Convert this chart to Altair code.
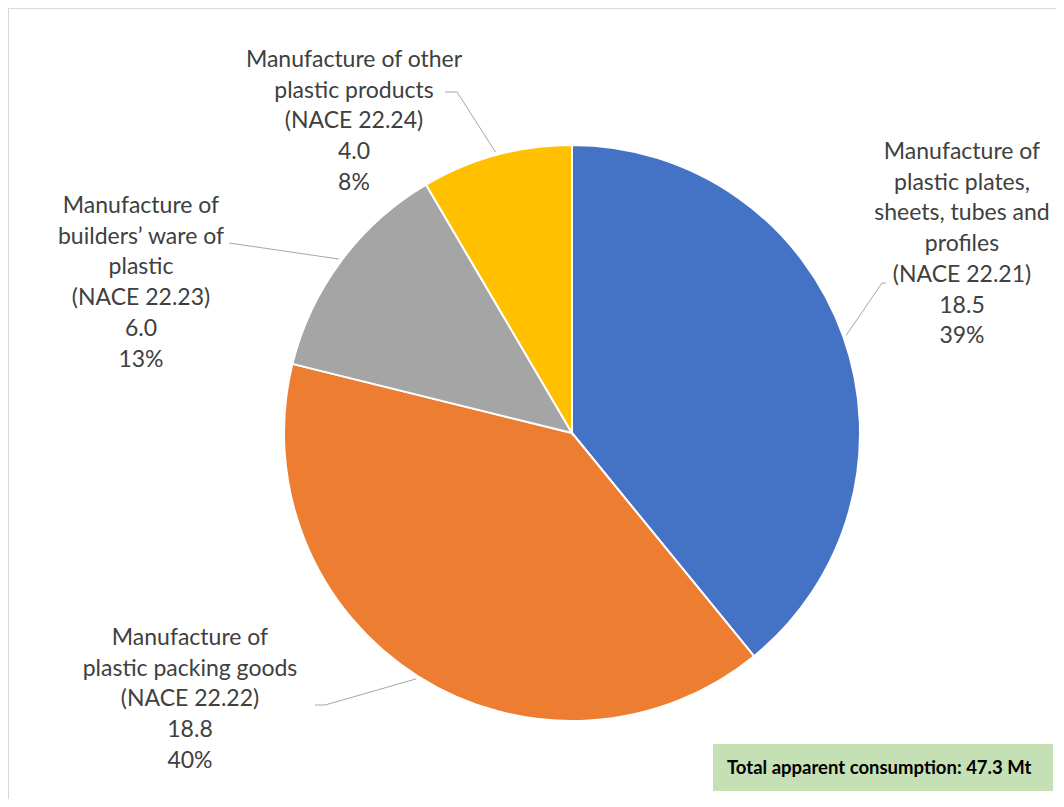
import altair as alt
import pandas as pd
import numpy as np

# ---- data ----
codes = ["22.21", "22.22", "22.23", "22.24"]
names = [
    "Manufacture of\nplastic plates,\nsheets, tubes and\nprofiles",
    "Manufacture of\nplastic packing goods",
    "Manufacture of\nbuilders\u2019 ware of\nplastic",
    "Manufacture of other\nplastic products",
]
values = [18.5, 18.8, 6.0, 4.0]
colors = ["#4472c4", "#ed7d31", "#a5a5a5", "#ffc000"]
total_label = "Total apparent consumption: 47.3 Mt"

# ---- layout (plot-area pixels) ----
W, H = 1048, 791
CX, CY, R = 564, 425, 288
label_x = [954, 182, 133, 346]
label_y = [144, 630, 198, 52]   # centre of first line
leader_ends = [
    [(874, 275), (878, 275)],
    [(317, 697), (307, 697)],
    [(221, 235)],
    [(449, 84), (437, 84)],
]
box = dict(x=705, x2=1045, y=736, y2=783)

total = sum(values)
df = pd.DataFrame({
    "code": codes,
    "value": values,
    "idx": list(range(len(values))),
    "label": [f"{n}\n(NACE {c})\n{v:.1f}\n{round(v / total * 100):.0f}%"
              for n, c, v in zip(names, codes, values)],
    "lx": label_x,
    "ly": label_y,
})

# leader lines from slice mid-angle on the pie edge to the label
rows = []
cum = 0.0
for i, v in enumerate(values):
    mid = (cum + v / 2) / total * 2 * np.pi
    cum += v
    sx = CX + (R + 3) * np.sin(mid)
    sy = CY - (R + 3) * np.cos(mid)
    pts = [(sx, sy)] + leader_ends[i]
    for j, (px, py) in enumerate(pts):
        rows.append({"seg": i, "ord": j, "x": px, "y": py})
lines = pd.DataFrame(rows)

xs = alt.Scale(domain=[0, W], nice=False, zero=False)
ys = alt.Scale(domain=[0, H], nice=False, zero=False, reverse=True)

pie = alt.Chart(df).mark_arc(radius=R, stroke="white", strokeWidth=2).encode(
    theta=alt.Theta("value:Q", stack=True),
    order=alt.Order("idx:Q", sort="ascending"),
    color=alt.Color("code:N", scale=alt.Scale(domain=codes, range=colors), legend=None),
    x=alt.value(CX),
    y=alt.value(CY),
)

leaders = alt.Chart(lines).mark_line(color="#a6a6a6", strokeWidth=1).encode(
    x=alt.X("x:Q", scale=xs, axis=None),
    y=alt.Y("y:Q", scale=ys, axis=None),
    detail="seg:N",
    order="ord:Q",
)

labels = alt.Chart(df).mark_text(
    align="center", baseline="middle", font="Lato", fontSize=23,
    lineHeight=30.7, color="#404040", lineBreak="\n",
).encode(
    x=alt.X("lx:Q", scale=xs, axis=None),
    y=alt.Y("ly:Q", scale=ys, axis=None),
    text="label:N",
)

box_df = pd.DataFrame([{**box, "t": total_label, "tx": box["x"] + 14, "ty": (box["y"] + box["y2"]) / 2}])
box_rect = alt.Chart(box_df).mark_rect(color="#c5e0b4").encode(
    x=alt.X("x:Q", scale=xs, axis=None), x2="x2:Q",
    y=alt.Y("y:Q", scale=ys, axis=None), y2="y2:Q",
)
box_text = alt.Chart(box_df).mark_text(
    align="left", baseline="middle", font="Lato", fontSize=18.5,
    fontWeight="bold", color="#000000",
).encode(
    x=alt.X("tx:Q", scale=xs, axis=None),
    y=alt.Y("ty:Q", scale=ys, axis=None),
    text="t:N",
)

border_l = alt.Chart(box_df).mark_rule(color="#d9d9d9", strokeWidth=2).encode(
    x=alt.value(0), y=alt.value(0), y2=alt.value(H))
border_t = alt.Chart(box_df).mark_rule(color="#d9d9d9", strokeWidth=2).encode(
    y=alt.value(0), x=alt.value(0), x2=alt.value(W))

chart = alt.layer(border_l, border_t, pie, leaders, labels, box_rect, box_text).properties(
    width=W, height=H, padding=0,
    autosize=alt.AutoSizeParams(type="none"),
).configure_view(stroke=None).configure(background="white")

chart.save("out.html", embed_options={"renderer": "svg", "actions": False})
